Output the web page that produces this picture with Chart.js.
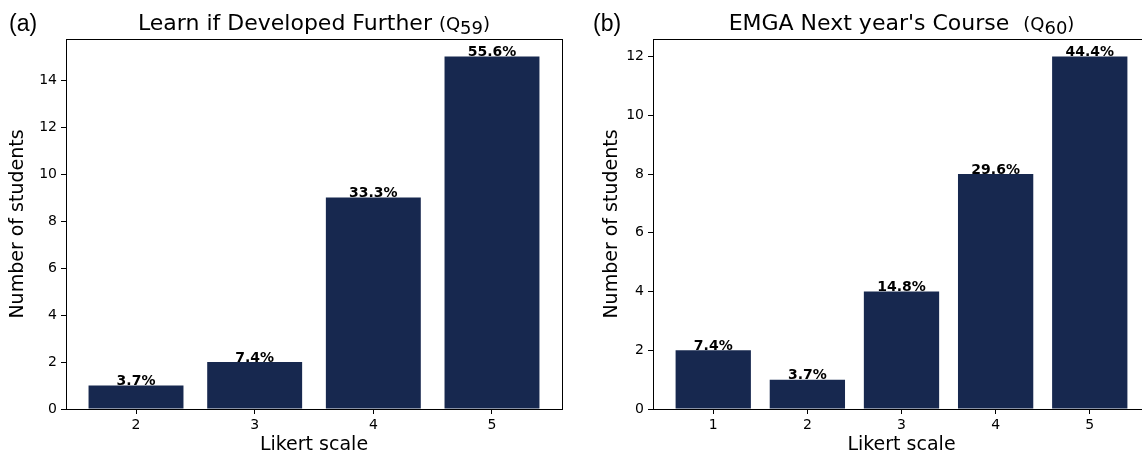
<!DOCTYPE html>
<html>
<head>
<meta charset="utf-8">
<script src="https://cdn.jsdelivr.net/npm/chart.js@4.4.1/dist/chart.umd.min.js"></script>
<style>
  body { margin: 0; width: 1142px; height: 458px; overflow: hidden; background: #fff; position: relative; }
  .panel { position: absolute; top: 0; height: 458px; }
</style>
</head>
<body>
<div class="panel" style="left:0;width:580px"><canvas id="chartA"></canvas></div>
<div class="panel" style="left:580px;width:590px"><canvas id="chartB"></canvas></div>
<script>
//** DATA */
const likertA = [2, 3, 4, 5];
const countsA = [1, 2, 9, 15];
const pctA = ['3.7%', '7.4%', '33.3%', '55.6%'];
const yTicksA = [0, 2, 4, 6, 8, 10, 12, 14];

const likertB = [1, 2, 3, 4, 5];
const countsB = [2, 1, 4, 8, 12];
const pctB = ['7.4%', '3.7%', '14.8%', '29.6%', '44.4%'];
const yTicksB = [0, 2, 4, 6, 8, 10, 12];

const BAR_COLOR = '#17284f';
const FONT = "'DejaVu Sans', sans-serif";

//** FRAME, BAR LABELS AND TITLE */
const panelPlugin = {
  id: 'panel',
  afterDatasetsDraw(chart, args, opts) {
    const ctx = chart.ctx;
    const a = chart.chartArea;
    ctx.save();
    ctx.strokeStyle = '#000';
    ctx.lineWidth = 1;
    ctx.strokeRect(Math.round(a.left) + 0.5, Math.round(a.top) + 0.5,
      Math.round(a.right - a.left), Math.round(a.bottom - a.top));

    ctx.font = 'bold 14px ' + FONT;
    ctx.textAlign = 'center';
    ctx.textBaseline = 'bottom';
    ctx.fillStyle = '#000';
    chart.getDatasetMeta(0).data.forEach((bar, i) => {
      ctx.fillText(opts.labels[i], bar.x, bar.y + 3);
    });

    // panel letter
    ctx.textAlign = 'left';
    ctx.textBaseline = 'alphabetic';
    ctx.font = "23px 'Liberation Sans', Arial, sans-serif";
    ctx.fillText(opts.letter, opts.letterX, 31);

    // title with subscript
    const mainFont = '22px ' + FONT;
    const smallFont = '18px ' + FONT;
    ctx.font = mainFont;
    const wMain = ctx.measureText(opts.title).width;
    ctx.font = smallFont;
    const wOpen = ctx.measureText('(Q').width;
    const wSub = ctx.measureText(opts.sub).width;
    const wClose = ctx.measureText(')').width;
    const total = wMain + wOpen + wSub + wClose;
    let x = (a.left + a.right) / 2 - total / 2;
    ctx.font = mainFont;
    ctx.fillText(opts.title, x, 30);
    x += wMain;
    ctx.font = smallFont;
    ctx.fillText('(Q', x, 30);
    x += wOpen;
    ctx.fillText(opts.sub, x, 34);
    x += wSub;
    ctx.fillText(')', x, 30);
    ctx.restore();
  }
};

function makeChart(id, cats, counts, pct, yTicks, xMin, xMax, yMax, yWidth, yTitlePad, rightPad, opts) {
  return new Chart(document.getElementById(id), {
    type: 'bar',
    data: {
      datasets: [{
        data: cats.map((c, i) => ({ x: c, y: counts[i] })),
        backgroundColor: BAR_COLOR,
        borderWidth: 0,
        barPercentage: 0.8,
        categoryPercentage: 1,
      }],
    },
    options: {
      responsive: true,
      maintainAspectRatio: false,
      animation: false,
      layout: { padding: { top: 39, right: rightPad, left: 0, bottom: 0 } },
      plugins: {
        legend: { display: false },
        tooltip: { enabled: false },
        panel: opts,
      },
      scales: {
        x: {
          type: 'linear',
          min: xMin,
          max: xMax,
          offset: false,
          afterBuildTicks: (axis) => { axis.ticks = cats.map(v => ({ value: v })); },
          afterFit: (axis) => { axis.height = 49; },
          grid: { display: true, offset: false, drawOnChartArea: false, drawTicks: true, tickLength: 5, color: '#000' },
          border: { display: true, color: '#000', width: 1 },
          ticks: { color: '#000', padding: 3, font: { size: 14, family: FONT } },
          title: { display: true, text: 'Likert scale', color: '#000',
            font: { size: 19, family: FONT }, padding: { top: 0, bottom: 2 } },
        },
        y: {
          min: 0,
          max: yMax,
          afterBuildTicks: (axis) => { axis.ticks = yTicks.map(v => ({ value: v })); },
          afterFit: (axis) => { axis.width = yWidth; },
          grid: { display: true, offset: false, drawOnChartArea: false, drawTicks: true, tickLength: 5, color: '#000' },
          border: { display: true, color: '#000', width: 1 },
          ticks: { color: '#000', padding: 4, font: { size: 14, family: FONT } },
          title: { display: true, text: 'Number of students', color: '#000',
            font: { size: 19, family: FONT }, padding: { top: yTitlePad, bottom: 0 } },
        },
      },
    },
    plugins: [panelPlugin],
  });
}

makeChart('chartA', likertA, countsA, pctA, yTicksA, 1.41, 5.59, 15.75, 66, 7, 18,
  { labels: pctA, letter: '(a)', letterX: 9, title: 'Learn if Developed Further ', sub: '59' });
makeChart('chartB', likertB, countsB, pctB, yTicksB, 0.36, 5.64, 12.6, 73, 21, 20,
  { labels: pctB, letter: '(b)', letterX: 13, title: "EMGA Next year's Course  ", sub: '60' });
</script>
</body>
</html>
